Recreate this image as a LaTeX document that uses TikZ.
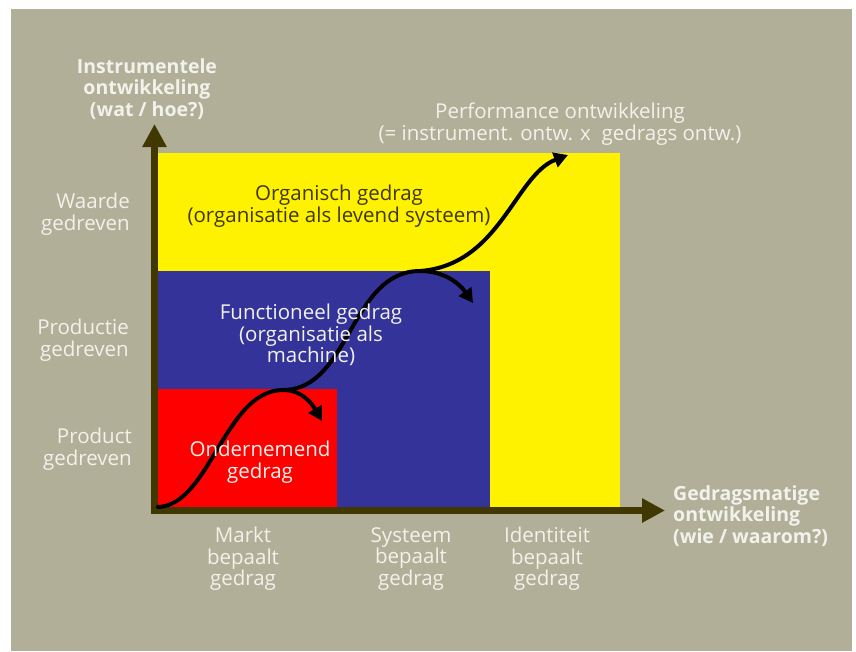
\documentclass[tikz,border=0pt]{standalone}
\usepackage{fontspec}
\setmainfont{Open Sans}
\usetikzlibrary{arrows.meta}
\definecolor{khaki}{RGB}{178,175,152}
\definecolor{axiscol}{RGB}{64,56,0}
\definecolor{blok}{RGB}{51,51,153}
\definecolor{txtwhite}{RGB}{242,242,236}
\begin{document}
\begin{tikzpicture}[x=1pt,y=-1pt,line cap=round,line join=round,
  lbl/.style={text=txtwhite,align=center,inner sep=0pt,font=\fontsize{20.5}{21.5}\selectfont},
  titel/.style={lbl,font=\bfseries\fontsize{19.5}{21.5}\selectfont},
  axis/.style={draw=axiscol,line width=7pt,line cap=butt,line join=miter,{Triangle[length=23pt,width=23pt]}-{Triangle[length=23pt,width=23pt]}},
  groei/.style={draw=black,line width=4pt,-{Triangle[length=14pt,width=15pt]}}]
  \useasboundingbox (0,0) rectangle (856,651);
  \fill[khaki] (11,9) rectangle (852,651);
  % blokken
  \fill[yellow] (158,153) rectangle (620,507);
  \fill[blok] (158,271) rectangle (490,507);
  \fill[red] (158,389) rectangle (337,507);
  % assen
  \coordinate (ytop) at (154.5,124);
  \coordinate (oorsprong) at (154.5,510.5);
  \coordinate (xend) at (665,510.5);
  \draw[axis] (ytop) -- (oorsprong) -- (xend);
  % groeicurve
  \coordinate (o) at (158,507);
  \coordinate (k1) at (283,390);
  \coordinate (k2) at (420,271);
  \coordinate (top) at (568,155);
  \coordinate (b1) at (322,421);
  \coordinate (b2) at (473,303);
  \draw[groei] (o) .. controls (210,505) and (225,390) .. (k1)
     .. controls (350,390) and (350,271) .. (k2)
     .. controls (500,265) and (515,175) .. (top);
  \draw[groei] (k1) to[out=0,in=120] (b1);
  \draw[groei] (k2) to[out=0,in=125] (b2);
  % teksten
  \node[titel] (yas) at (147,89) {Instrumentele\\ontwikkeling\\(wat / hoe?)};
  \node[titel,anchor=west,align=left] (xas) at (673,516) {Gedragsmatige\\ontwikkeling\\(wie / waarom?)};
  \node[lbl] (perf) at (560,124) {Performance ontwikkeling\\(= instrument. ontw. x~ gedrags ontw.)};
  \node[lbl,text=axiscol] (org) at (339,206) {Organisch gedrag\\(organisatie als levend systeem)};
  \node[lbl] (func) at (311,335) {Functioneel gedrag\\(organisatie als\\machine)};
  \node[lbl] (ond) at (260,462) {Ondernemend\\gedrag};
  \node[lbl,anchor=east,align=right] (waarde) at (130,214) {Waarde\\gedreven};
  \node[lbl,anchor=east,align=right] (productie) at (129,340) {Productie\\gedreven};
  \node[lbl,anchor=east,align=right] (product) at (132,449) {Product\\gedreven};
  \node[lbl] (markt) at (243,559) {Markt\\bepaalt\\gedrag};
  \node[lbl] (systeem) at (411,559) {Systeem\\bepaalt\\gedrag};
  \node[lbl] (identiteit) at (547,559) {Identiteit\\bepaalt\\gedrag};
\end{tikzpicture}
\end{document}
